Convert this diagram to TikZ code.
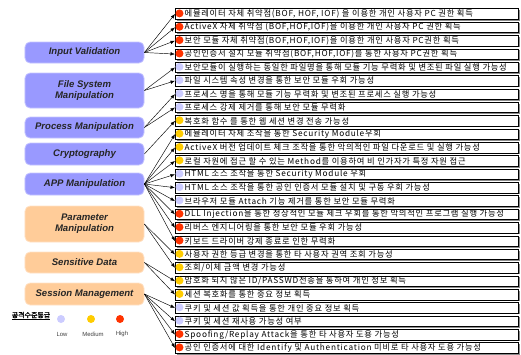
\documentclass[tikz,border=0pt]{standalone}
\usepackage{fontspec}
\setmainfont{Liberation Sans}
\newfontfamily\kor[AutoFakeBold=2]{Noto Sans CJK KR}
\newfontfamily\korwide[LetterSpace=9]{Noto Sans CJK KR}
\usetikzlibrary{arrows.meta,shadows}

\definecolor{catblue}{HTML}{9999FF}
\definecolor{catblueedge}{HTML}{C4C4FF}
\definecolor{catorange}{HTML}{FFCC99}
\definecolor{catorangeedge}{HTML}{FFE2C6}
\definecolor{lvhigh}{HTML}{FF3300}
\definecolor{lvmid}{HTML}{FFCC00}
\definecolor{lvlow}{HTML}{CCCCFF}

\tikzset{
  cat/.style={rounded corners=5bp, minimum width=119bp, align=center,
    font=\fontsize{9.6}{11}\selectfont\bfseries\itshape, text=black!85, line width=0.8bp},
  catb/.style={cat, fill=catblue, draw=catblueedge},
  cato/.style={cat, fill=catorange, draw=catorangeedge},
  rowbox/.style={draw=black, line width=0.6bp, fill=white, minimum width=343bp,
    minimum height=10.5bp, inner sep=0, anchor=west,
    drop shadow={shadow xshift=1.3bp, shadow yshift=-1.3bp, fill=black!45, opacity=1}},
  rowtext/.style={anchor=west, inner sep=0, font=\korwide\fontsize{8.3}{9}\selectfont},
  bullet/.style={circle, inner sep=0, minimum size=8bp},
  link/.style={line width=0.45bp, -{Latex[length=4.5bp,width=3.5bp]}},
  lglabel/.style={inner sep=0, font=\fontsize{6}{7}\selectfont, text=black!75},
}

\begin{document}
\begin{tikzpicture}[x=1bp,y=-1bp]
\useasboundingbox (0,0) rectangle (521,354);

% threat categories
\node[catb, minimum height=21bp] (iv)  at (84.5,52.5)  {Input Validation};
\node[catb, minimum height=35bp] (fs)  at (84.5,90.5)  {File System\\Manipulation};
\node[catb, minimum height=21bp] (pm)  at (84.5,127.5) {Process Manipulation};
\node[catb, minimum height=22bp] (cr)  at (84.5,154)   {Cryptography};
\node[catb, minimum height=22bp] (app) at (84.5,184)   {APP Manipulation};
\node[cato, minimum height=36bp] (par) at (84.5,224)   {Parameter\\Manipulation};
\node[cato, minimum height=21bp] (sd)  at (84.5,262.5) {Sensitive Data};
\node[cato, minimum height=22bp] (sm)  at (84.5,294)   {Session Management};

% vulnerability rows: index / level / text
\foreach \i/\c/\t in {
  1/lvhigh/{에뮬레이터 자체 취약점(BOF, HOF, IOF) 을 이용한 개인 사용자 PC 권한 획득},
  2/lvhigh/{ActiveX 자체 취약점 (BOF,HOF,IOF)을 이용한 개인 사용자 PC 권한 획득},
  3/lvhigh/{보안 모듈 자체 취약점(BOF,HOF,IOF)을 이용한 개인 사용자 PC권한 획득},
  4/lvhigh/{공인인증서 설치 모듈 취약점(BOF,HOF,IOF)를 통한 사용자 PC권한 획득},
  5/lvlow/{보안모듈이 실행하는 동일한 파일명을 통해 모듈 기능 무력화 및 변조된 파일 실행 가능성},
  6/lvlow/{파일 시스템 속성 변경을 통한 보안 모듈 우회 가능성},
  7/lvlow/{프로세스 명을 통해 모듈 기능 무력화 및 변조된 프로세스 실행 가능성},
  8/lvlow/{프로세스 강제 제거를 통해 보안 모듈 무력화},
  9/lvmid/{복호화 함수 를 통한 웹 세션 변경 전송 가능성},
  10/lvmid/{에뮬레이터 자체 조작을 통한 Security Module우회},
  11/lvmid/{ActiveX 버전 업데이트 체크 조작을 통한 악의적인 파일 다운로드 및 실행 가능성},
  12/lvmid/{로컬 자원에 접근 할 수 있는 Method를 이용하여 비 인가자가 특정 자원 접근},
  13/lvlow/{HTML 소스 조작을 통한 Security Module 우회},
  14/lvlow/{HTML 소스 조작을 통한 공인 인증서 모듈 설치 및 구동 우회 가능성},
  15/lvlow/{브라우저 모듈 Attach 기능 제거를 통한 보안 모듈 무력화},
  16/lvhigh/{DLL Injection을 통한 정상적인 모듈 체크 우회를 통한 악의적인 프로그램 실행 가능성},
  17/lvhigh/{리버스 엔지니어링을 통한 보안 모듈 우회 가능성},
  18/lvhigh/{키보드 드라이버 강제 종료로 인한 무력화},
  19/lvmid/{사용자 권한 등급 변경을 통한 타 사용자 권역 조회 가능성},
  20/lvmid/{조회/이체 금액 변경 가능성},
  21/lvmid/{암호화 되지 않은 ID/PASSWD전송을 통하여 개인 정보 획득},
  22/lvmid/{세션 복호화를 통한 중요 정보 획득},
  23/lvlow/{쿠키 및 세션 값 획득을 통한 개인 중요 정보 획득},
  24/lvlow/{쿠키 및 세션 재사용 가능성 여부},
  25/lvhigh/{Spoofing/Replay Attack을 통한 타 사용자 도용 가능성},
  26/lvhigh/{공인 인증서에 대한 Identify 및 Authentication 미비로 타 사용자 도용 가능성}}
{
  \pgfmathsetmacro\yy{14+(\i-1)*13.36}
  \node[rowbox] (r\i) at (175,\yy) {};
  \node[rowtext] (t\i) at (184.5,\yy) {\t};
  \node[bullet, fill=\c] (b\i) at (179.5,\yy-0.6) {};
}

% category -> vulnerability links
\foreach \k in {1,2,3,4}            \draw[link] (iv.east)  -- (r\k.west);
\foreach \k in {5,6}                \draw[link] (fs.east)  -- (r\k.west);
\foreach \k in {7,8}                \draw[link] (pm.east)  -- (r\k.west);
\foreach \k in {9}                  \draw[link] (cr.east)  -- (r\k.west);
\foreach \k in {10,...,18}          \draw[link] (app.east) -- (r\k.west);
\foreach \k in {19,20}              \draw[link] (par.east) -- (r\k.west);
\foreach \k in {21,22}              \draw[link] (sd.east)  -- (r\k.west);
\foreach \k in {23,24,25,26}        \draw[link] (sm.east)  -- (r\k.west);

% legend
\node[inner sep=0, font=\kor\bfseries\fontsize{7}{8}\selectfont] (lg) at (31,316) {\underline{공격수준등급}};
\node[bullet, fill=lvlow] (lo) at (61,319) {};
\node[bullet, fill=lvmid] (me) at (91,319) {};
\node[bullet, fill=lvhigh] (hi) at (120,319) {};
\node[lglabel] (lol) at (62,334) {Low};
\node[lglabel] (mel) at (93,334) {Medium};
\node[lglabel] (hil) at (122,334) {High};
\end{tikzpicture}
\end{document}
